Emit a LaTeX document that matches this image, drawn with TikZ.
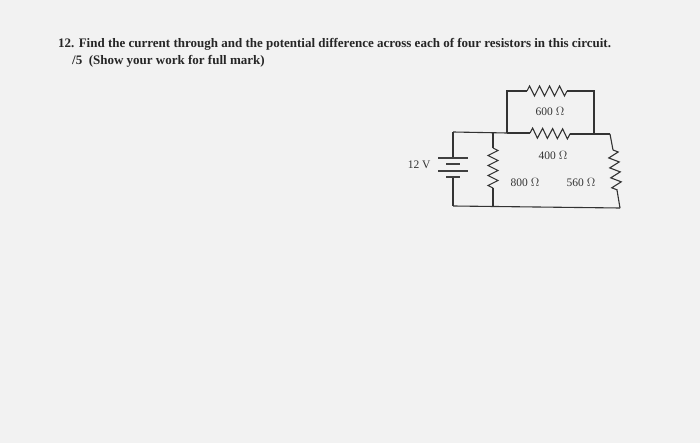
\documentclass[tikz,border=0pt]{standalone}
\usepackage{fontspec}
\setmainfont{Liberation Serif}
\usetikzlibrary{decorations.pathmorphing}
\tikzset{
  wire/.style={line width=1.1pt, color=black!80},
  resistor/.style={wire, decorate, decoration={zigzag, segment length=10pt, amplitude=5pt}},
  plate/.style={line width=1.1pt, color=black!75},
  lbl/.style={font=\fontsize{11.5}{13}\selectfont, text=black!80},
  quest/.style={anchor=west, font=\bfseries\fontsize{13}{15}\selectfont, text=black!85, inner sep=1pt},
}
\begin{document}
\begin{tikzpicture}[x=1pt,y=-1pt]
      \useasboundingbox (0,0) rectangle (700,443);
      \fill [color=black!5] (0,0) rectangle (700,443);

      \node [quest] (q1) at (57,44) {12. Find the current through and the potential difference across each of four resistors in this circuit.};
      \node [quest] (q2) at (71,61) {/5 \ (Show your work for full mark)};

      % corners
      \coordinate (tl) at (453,132);
      \coordinate (bl) at (453,206);
      \coordinate (br) at (620,208);
      \coordinate (tr) at (610,134);
      \coordinate (m1) at (493,133);
      \coordinate (m2) at (493,206);
      \coordinate (p1) at (507,133);
      \coordinate (p2) at (594,134);
      \coordinate (u1) at (507,91);
      \coordinate (u2) at (594,91);

      % battery plates
      \coordinate (b1) at (453,158);
      \coordinate (b2) at (453,177);
      \draw [wire] (tl) -- (b1);
      \draw [wire] (b2) -- (bl);
      \draw [plate] (438,158) -- (468,158);
      \draw [plate] (446,164) -- (460,164);
      \draw [plate] (438,171) -- (468,171);
      \draw [plate] (446,177) -- (460,177);
      \node [lbl, anchor=east] (bv) at (434,165) {12 V};

      % wires
      \draw [wire] (tl) -- (p1);
      \draw [wire] (bl) -- (br);
      \draw [wire] (p1) -- (u1) -- (527,91);
      \draw [resistor] (527,91) -- (567,91);
      \draw [wire] (567,91) -- (u2) -- (p2);
      \draw [wire] (p1) -- (530,133);
      \draw [resistor] (530,133) -- (570,134);
      \draw [wire] (570,134) -- (tr);
      \draw [wire] (tr) -- (613,150);
      \draw [resistor] (613,150) -- (617,190);
      \draw [wire] (617,190) -- (br);
      \draw [wire] (m1) -- (493,148);
      \draw [resistor] (493,148) -- (493,188);
      \draw [wire] (493,188) -- (m2);

      \node [lbl] (r600) at (550,111) {600 $\Omega$};
      \node [lbl] (r400) at (553,155) {400 $\Omega$};
      \node [lbl] (r800) at (525,182) {800 $\Omega$};
      \node [lbl] (r560) at (581,182) {560 $\Omega$};
\end{tikzpicture}
\end{document}
